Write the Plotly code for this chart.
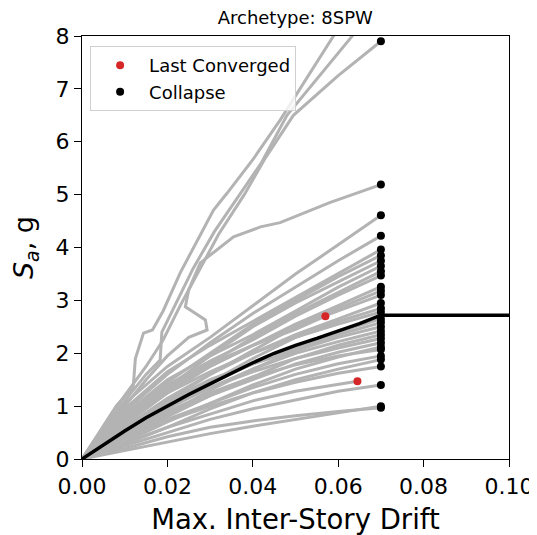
import plotly.graph_objects as go

# IDA curves: (drift list, Sa list)
upper_curves = [
    ([0, 0.004, 0.008, 0.012, 0.0125, 0.0144, 0.0165, 0.019, 0.023, 0.0308, 0.034, 0.040, 0.0464, 0.0589, 0.062],
     [0, 0.5, 1.0, 1.37, 1.9, 2.38, 2.44, 2.8, 3.52, 4.71, 5.03, 5.66, 6.41, 8.0, 8.4]),
    ([0, 0.005, 0.01, 0.015, 0.0183, 0.0187, 0.022, 0.026, 0.031, 0.036, 0.042, 0.048, 0.0633, 0.066],
     [0, 0.55, 1.1, 1.6, 1.87, 2.4, 2.95, 3.6, 4.3, 4.9, 5.6, 6.5, 8.0, 8.4]),
    ([0, 0.005, 0.01, 0.015, 0.019, 0.023, 0.027, 0.032, 0.038, 0.043, 0.0495, 0.06, 0.07],
     [0, 0.6, 1.2, 1.75, 2.25, 2.9, 3.5, 4.25, 5.0, 5.7, 6.5, 7.25, 7.9]),
    ([0, 0.005, 0.01, 0.015, 0.02, 0.025, 0.0293, 0.0289, 0.0242, 0.025, 0.0277, 0.0355, 0.0418, 0.0464, 0.058, 0.07],
     [0, 0.5, 1.0, 1.5, 1.95, 2.3, 2.44, 2.63, 2.88, 3.2, 3.71, 4.2, 4.39, 4.47, 4.85, 5.19]),
]

bundle_drift = [0, 0.005, 0.01, 0.02, 0.03, 0.04, 0.05, 0.06, 0.07]
bundle_sa = [
    [0, 0.55, 1.05, 1.75, 2.3, 2.9, 3.5, 4.05, 4.61],
    [0, 0.45, 0.9, 1.6, 2.2, 2.75, 3.25, 3.75, 4.22],
    [0, 0.5, 0.95, 1.65, 2.15, 2.6, 3.05, 3.5, 3.96],
    [0, 0.4, 0.8, 1.45, 2.0, 2.55, 3.0, 3.45, 3.85],
    [0, 0.35, 0.7, 1.35, 1.95, 2.5, 2.95, 3.35, 3.75],
    [0, 0.45, 0.85, 1.5, 1.95, 2.35, 2.8, 3.25, 3.65],
    [0, 0.3, 0.65, 1.25, 1.8, 2.3, 2.75, 3.15, 3.55],
    [0, 0.4, 0.8, 1.4, 1.85, 2.25, 2.7, 3.1, 3.47],
    [0, 0.35, 0.7, 1.3, 1.75, 2.15, 2.55, 2.9, 3.26],
    [0, 0.25, 0.55, 1.1, 1.6, 2.05, 2.5, 2.85, 3.18],
    [0, 0.38, 0.75, 1.35, 1.8, 2.15, 2.5, 2.8, 3.10],
    [0, 0.3, 0.6, 1.15, 1.6, 2.0, 2.35, 2.65, 2.95],
    [0, 0.22, 0.45, 0.95, 1.45, 1.9, 2.3, 2.6, 2.85],
    [0, 0.35, 0.7, 1.25, 1.65, 2.0, 2.3, 2.55, 2.78],
    [0, 0.28, 0.55, 1.05, 1.45, 1.8, 2.1, 2.4, 2.65],
    [0, 0.2, 0.4, 0.85, 1.3, 1.7, 2.05, 2.35, 2.58],
    [0, 0.3, 0.6, 1.1, 1.5, 1.8, 2.05, 2.3, 2.50],
    [0, 0.25, 0.5, 0.95, 1.35, 1.7, 2.0, 2.22, 2.42],
    [0, 0.18, 0.38, 0.8, 1.2, 1.55, 1.9, 2.15, 2.35],
    [0, 0.28, 0.55, 1.0, 1.35, 1.65, 1.9, 2.1, 2.28],
    [0, 0.22, 0.45, 0.85, 1.2, 1.5, 1.8, 2.02, 2.20],
    [0, 0.15, 0.32, 0.7, 1.05, 1.4, 1.7, 1.93, 2.12],
    [0, 0.25, 0.5, 0.9, 1.25, 1.55, 1.78, 1.95, 2.07],
    [0, 0.2, 0.4, 0.75, 1.05, 1.35, 1.6, 1.8, 1.95],
    [0, 0.12, 0.28, 0.6, 0.95, 1.25, 1.5, 1.7, 1.88],
    [0, 0.2, 0.38, 0.72, 1.0, 1.25, 1.45, 1.62, 1.75],
    [0, 0.12, 0.25, 0.5, 0.75, 0.95, 1.12, 1.28, 1.40],
    [0, 0.08, 0.16, 0.32, 0.48, 0.62, 0.75, 0.88, 1.00],
    [0, 0.1, 0.2, 0.42, 0.6, 0.72, 0.82, 0.9, 0.97],
]

# curves that stop before collapse (end at last converged point)
nonconv_curves = [
    ([0, 0.005, 0.01, 0.02, 0.03, 0.04, 0.05, 0.057],
     [0, 0.3, 0.65, 1.25, 1.75, 2.15, 2.45, 2.70]),
    ([0, 0.005, 0.01, 0.02, 0.03, 0.04, 0.05, 0.06, 0.0645],
     [0, 0.15, 0.3, 0.6, 0.85, 1.1, 1.28, 1.42, 1.47]),
]

last_conv_drift = [0.057, 0.0645]
last_conv_sa = [2.70, 1.47]

collapse_drift = 0.07
collapse_sa = [7.9, 5.19, 4.61, 4.22, 3.96, 3.85, 3.75, 3.65, 3.55, 3.47, 3.26, 3.18,
               3.10, 2.95, 2.85, 2.78, 2.65, 2.58, 2.50, 2.42, 2.35, 2.28, 2.20, 2.12,
               2.07, 1.95, 1.88, 1.75, 1.40, 1.00, 0.97]

median_drift = [0, 0.005, 0.01, 0.015, 0.02, 0.025, 0.03, 0.035, 0.04, 0.045, 0.05,
                0.055, 0.06, 0.065, 0.07, 0.10]
median_sa = [0, 0.27, 0.53, 0.78, 1.0, 1.22, 1.42, 1.62, 1.82, 2.0, 2.15,
             2.28, 2.42, 2.56, 2.72, 2.72]

gray = "#b3b3b3"
fig = go.Figure()

all_curves = upper_curves + [(bundle_drift, s) for s in bundle_sa] + nonconv_curves
for dx, sy in all_curves:
    fig.add_trace(go.Scatter(x=dx, y=sy, mode="lines", line=dict(color=gray, width=3),
                             showlegend=False, hoverinfo="skip"))

fig.add_trace(go.Scatter(x=median_drift, y=median_sa, mode="lines",
                         line=dict(color="black", width=3.5), showlegend=False))

fig.add_trace(go.Scatter(x=last_conv_drift, y=last_conv_sa, mode="markers",
                         marker=dict(color="#d62728", size=8), name="Last Converged"))
fig.add_trace(go.Scatter(x=[collapse_drift] * len(collapse_sa), y=collapse_sa, mode="markers",
                         marker=dict(color="black", size=8), name="Collapse"))

axis_common = dict(showline=True, linecolor="black", linewidth=1.3, mirror=True,
                   ticks="outside", ticklen=7, tickwidth=1.3, tickcolor="black",
                   showgrid=False, zeroline=False, tickfont=dict(size=22, color="black"))

# page is offset by the 8px body margin, so margins are shifted to compensate
fig.update_layout(
    width=537, height=535,
    margin=dict(l=74, r=36, t=28, b=84),
    paper_bgcolor="white", plot_bgcolor="white",
    font=dict(family="DejaVu Sans", color="black"),
    title=dict(text="Archetype: 8SPW", x=0.535, xanchor="center", y=0.982, yanchor="middle",
               font=dict(size=18)),
    xaxis=dict(range=[0, 0.10], tickvals=[0, 0.02, 0.04, 0.06, 0.08, 0.10],
               tickformat=".2f",
               title=dict(text="Max. Inter-Story Drift", font=dict(size=27.5), standoff=12),
               **axis_common),
    yaxis=dict(range=[0, 8], dtick=1,
               title=dict(text="<i>S</i><sub><i>a</i></sub>, g", font=dict(size=27), standoff=14),
               **axis_common),
    legend=dict(x=0.019, y=0.976, xanchor="left", yanchor="top",
                bgcolor="rgba(255,255,255,0.8)", bordercolor="#d0d0d0", borderwidth=1,
                font=dict(size=18), itemwidth=48),
)

fig.write_html("out.html")
